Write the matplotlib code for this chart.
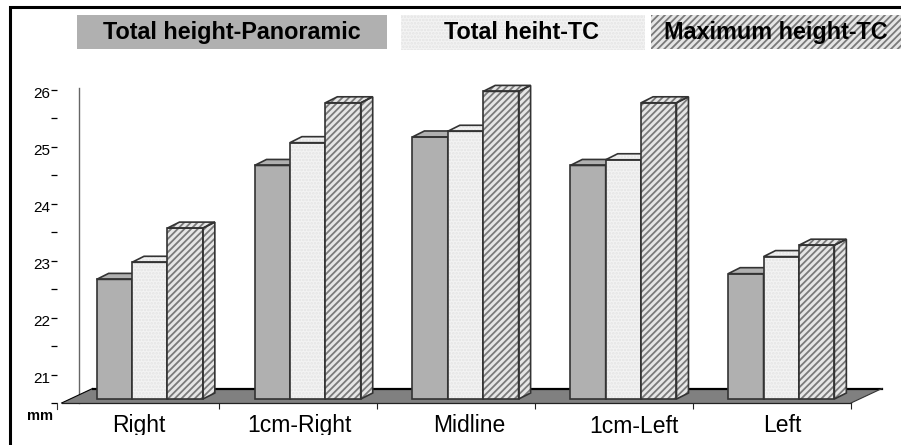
import matplotlib
matplotlib.use('Agg')
import matplotlib.pyplot as plt
from matplotlib.patches import Polygon, Rectangle
from matplotlib.transforms import Bbox, ScaledTranslation

W, H = 901, 445

categories = ['Right', '1cm-Right', 'Midline', '1cm-Left', 'Left']
panoramic = [22.6, 24.6, 25.1, 24.6, 22.7]
total_tc = [22.9, 25.0, 25.2, 24.7, 23.0]
maximum_tc = [23.5, 25.7, 25.9, 25.7, 23.2]
series_names = ['Total height-Panoramic', 'Total heiht-TC', 'Maximum height-TC']
y_major = [21, 22, 23, 24, 25, 26]
y_minor = [20.5, 21.5, 22.5, 23.5, 24.5, 25.5]

plt.rcParams['font.family'] = ['Liberation Sans', 'DejaVu Sans']
plt.rcParams['hatch.linewidth'] = 1.3

DARK = '#b0b0b0'
LIGHT = '#f3f3f3'
styles = [
    dict(facecolor=DARK, hatch=None, hatch_color=DARK),
    dict(facecolor=LIGHT, hatch='.....', hatch_color='#e4e4e4'),
    dict(facecolor='#e6e6e6', hatch='/////', hatch_color='#7a7a7a'),
]

fig = plt.figure(figsize=(W / 100, H / 100), dpi=100)

# frame runs off the picture on the right and at the bottom
fig.add_artist(Rectangle((10 / W, -0.1), 1.2, (H - 7) / H + 0.1, transform=fig.transFigure,
                         fill=False, edgecolor='black', linewidth=2.2))

# plotting axes, 20.5 sits on the front floor edge
left, right, top, bottom = 61.6, 851, 88, 403
ax = fig.add_axes([left / W, 1 - bottom / H, (right - left) / W, (bottom - top) / H])
ax.set_xlim(-0.5, 4.5)
ax.set_ylim(20.5, 26.03)
ax.patch.set_visible(False)
for s in ax.spines.values():
    s.set_visible(False)

px_x = (right - left) / 5  # pixels per category
px_y = (bottom - top) / (26.03 - 20.5)  # pixels per mm


def dx(p):
    return p / px_x


def dy(p):
    return p / px_y


# floor
floor = Polygon([(-0.5, 20.5), (4.5, 20.5), (4.5 + dx(31), 20.5 + dy(14.5)), (-0.5 + dx(31), 20.5 + dy(14.5))],
                closed=True, facecolor='#808080', edgecolor='none', zorder=1, clip_on=False)
ax.add_patch(floor)
ax.plot([-0.5 + dx(31), 4.5 + dx(31)], [20.5 + dy(14.5)] * 2, color='black', lw=1.6, zorder=1.5, clip_on=False)
ax.plot([-0.5, 4.5], [20.5, 20.5], color='#222222', lw=0.9, zorder=1.5, clip_on=False)
ax.plot([-0.5, -0.5 + dx(31)], [20.5, 20.5 + dy(14.5)], color='black', lw=0.8, zorder=1.5, clip_on=False)
ax.plot([4.5, 4.5 + dx(31)], [20.5, 20.5 + dy(14.5)], color='#333333', lw=0.8, zorder=1.5, clip_on=False)

# back wall line
ax.plot([-0.5 + dx(17), -0.5 + dx(17)], [20.5, 26.03], color='#666666', lw=1.0, zorder=0.5, clip_on=False)

# ticks
ax.spines['left'].set_position(('outward', 3.0))
ax.set_yticks(y_major)
ax.set_yticks(y_minor, minor=True)
ax.set_yticklabels([str(v) for v in y_major], fontsize=11)
ax.tick_params(axis='y', which='both', length=4.2, width=0.9, pad=1.2, color='black')
# labels hang a bit below their tick
for lab in ax.get_yticklabels():
    lab.set_transform(lab.get_transform() + ScaledTranslation(0, -3 / 100, fig.dpi_scale_trans))
ax.set_xticks([0.5, 1.5, 2.5, 3.5, 4.5])
ax.set_xticklabels([])
ax.tick_params(axis='x', length=4.3, width=0.8, color='#222222')
ax.plot([-0.5 - dx(4.3)] * 2, [20.5, 20.5 - dy(6)], color='#333333', lw=0.8, clip_on=False)


def box_3d(x0, width, value, style, z):
    lift = dy(4)
    base = 20.5 + lift
    t = value + lift
    depth_x, depth_y = dx(12), dy(6)
    faces = [
        [(x0, base), (x0 + width, base), (x0 + width, t), (x0, t)],
        [(x0 + width, base), (x0 + width + depth_x, base + depth_y),
         (x0 + width + depth_x, t + depth_y), (x0 + width, t)],
        [(x0, t), (x0 + width, t), (x0 + width + depth_x, t + depth_y), (x0 + depth_x, t + depth_y)],
    ]
    for pts in faces:
        ax.add_patch(Polygon(pts, closed=True, facecolor=style['facecolor'], hatch=style['hatch'],
                             edgecolor=style['hatch_color'], linewidth=0, zorder=z, clip_on=False))
        ax.add_patch(Polygon(pts, closed=True, fill=False, edgecolor='#333333', linewidth=1.2,
                             zorder=z + 0.01, clip_on=False))


bar_w = dx(35.4)
start = dx(95.5 - 139.4)  # group starts left of category centre
all_series = [panoramic, total_tc, maximum_tc]
for i in range(len(categories)):
    for j, values in enumerate(all_series):
        box_3d(i + start + j * bar_w, bar_w, values[i], styles[j], 2 + i + j * 0.1)

# category labels are not centred in the source, and get cut off near the bottom
label_dx = [-2, 1.5, 12.5, 20, 10]
label_dy = [0, 0, 0, 1, 0]
for i, name in enumerate(categories):
    t = ax.annotate(name, (i, 20.5), xytext=(label_dx[i] * 0.72, -(11 + label_dy[i]) * 0.72),
                    textcoords='offset points', ha='center', va='top', fontsize=16.5, annotation_clip=False)
    t.set_clip_on(True)
    t.set_clip_box(Bbox([[0, H - 434.5], [W, H]]))

fig.text(40 / W, 1 - 415.5 / H, 'mm', fontsize=10.5, fontweight='bold', ha='center', va='center')

# legend plates
plates = [(77, 387, 15, 49), (401, 645, 15, 50), (651, 901, 15, 49)]
text_cx = [232, 522, 776]
for (x0, x1, y0, y1), style, name, cx in zip(plates, styles, series_names, text_cx):
    fig.add_artist(Rectangle((x0 / W, 1 - y1 / H), (x1 - x0) / W, (y1 - y0) / H, transform=fig.transFigure,
                             facecolor=style['facecolor'], hatch=style['hatch'],
                             edgecolor=style['hatch_color'], linewidth=0))
    fig.text(cx / W, 1 - 32.5 / H, name, fontsize=16.8, fontweight='bold', ha='center', va='center')

fig.savefig('out.png', dpi=100)
